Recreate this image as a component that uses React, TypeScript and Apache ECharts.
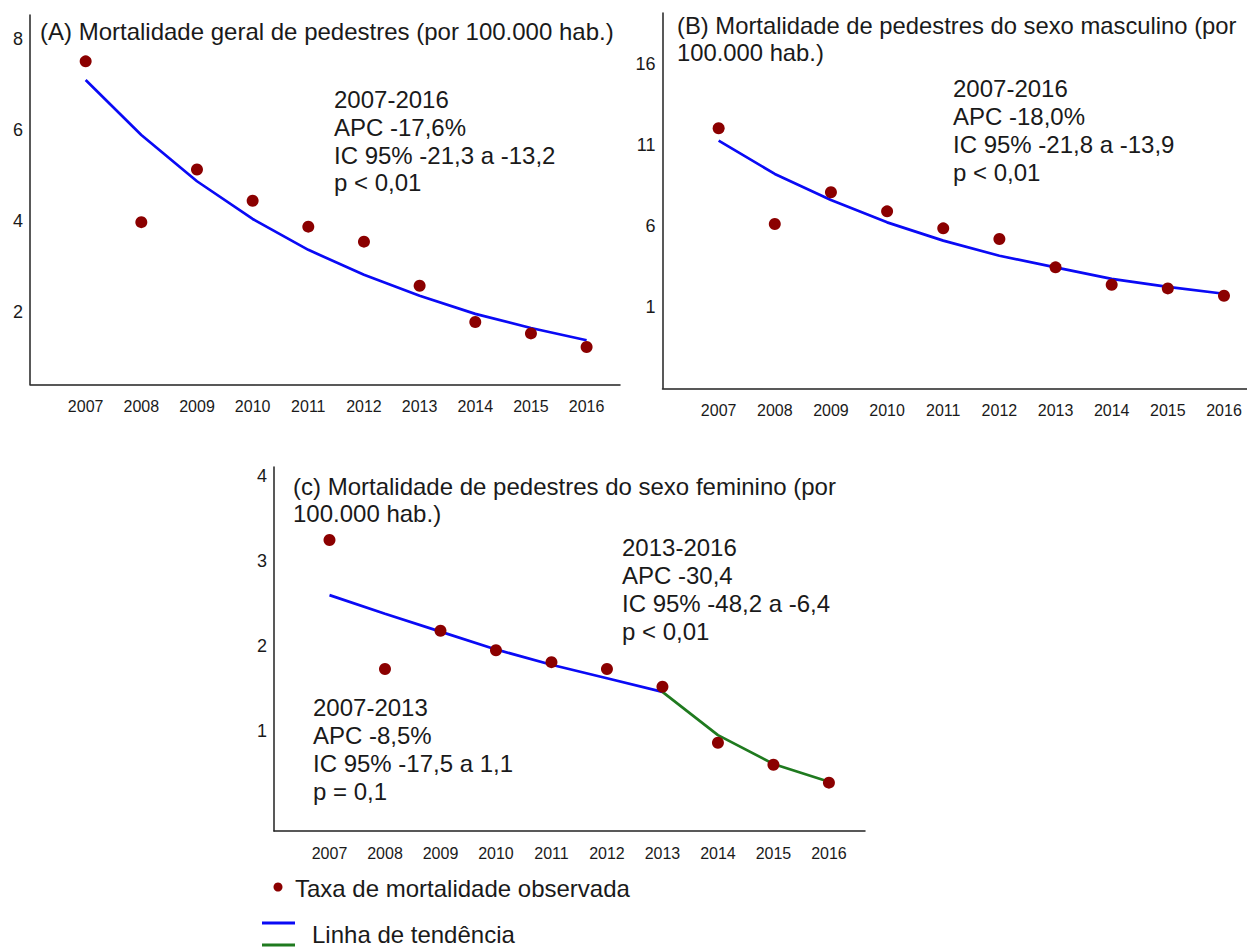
import React, { useEffect, useRef } from "react";
import * as echarts from "echarts";

const years = [2007, 2008, 2009, 2010, 2011, 2012, 2013, 2014, 2015, 2016];
const yearsC1 = [2007, 2008, 2009, 2010, 2011, 2012, 2013];
const yearsC2 = [2013, 2014, 2015, 2016];

const obsA = [7.51, 3.97, 5.13, 4.44, 3.87, 3.54, 2.57, 1.77, 1.52, 1.22];
const trendA = [7.1, 5.89, 4.87, 4.04, 3.36, 2.81, 2.35, 1.95, 1.64, 1.37];

const obsB = [12.02, 6.11, 8.07, 6.89, 5.84, 5.18, 3.43, 2.36, 2.13, 1.68];
const trendB = [11.26, 9.2, 7.59, 6.21, 5.08, 4.15, 3.43, 2.72, 2.22, 1.8];

const obsC = [3.25, 1.73, 2.18, 1.95, 1.81, 1.73, 1.52, 0.86, 0.6, 0.39];
const trendC1 = [2.6, 2.38, 2.17, 1.96, 1.78, 1.62, 1.46];
const trendC2 = [1.46, 0.95, 0.61, 0.4];

const ticksA = [2, 4, 6, 8];
const ticksB = [1, 6, 11, 16];
const ticksC = [1, 2, 3, 4];

const titleA = "(A) Mortalidade geral de pedestres (por 100.000 hab.)";
const titleB = "(B) Mortalidade de pedestres do sexo masculino (por\n100.000 hab.)";
const titleC = "(c) Mortalidade de pedestres do sexo feminino (por\n100.000 hab.)";
const noteA = ["2007-2016", "APC -17,6%", "IC 95% -21,3 a -13,2", "p < 0,01"];
const noteB = ["2007-2016", "APC -18,0%", "IC 95% -21,8 a -13,9", "p < 0,01"];
const noteC2 = ["2013-2016", "APC -30,4", "IC 95% -48,2 a -6,4", "p < 0,01"];
const noteC1 = ["2007-2013", "APC -8,5%", "IC 95% -17,5 a 1,1", "p = 0,1"];
const legendObs = "Taxa de mortalidade observada";
const legendTrend = "Linha de tendência";

const FONT = "'Liberation Sans', Arial, sans-serif";
const TEXT = "#1a1a1a";
const DOT = "#8B0000";
const BLUE = "#0A0AF5";
const GREEN = "#1F7A1F";

const pairs = (xs: number[], ys: number[]) => xs.map((x, i) => [x, ys[i]]);

function textEl(x: number, y: number, text: string, size = 24, lh = 27.5) {
  return {
    type: "text",
    x,
    y,
    style: {
      text,
      fill: TEXT,
      font: `${size}px ${FONT}`,
      lineHeight: lh,
      align: "left",
      verticalAlign: "top",
    },
  };
}

function xAxis(gridIndex: number, max: number) {
  return {
    type: "value",
    gridIndex,
    min: 2006,
    max,
    splitLine: { show: false },
    axisTick: { show: false },
    axisLine: { show: true, onZero: false, lineStyle: { color: "#222", width: 1.5 } },
    axisLabel: {
      customValues: years,
      formatter: (v: number) => String(v),
      color: TEXT,
      fontSize: 16,
      fontFamily: FONT,
      margin: 14,
    },
  };
}

function yAxis(gridIndex: number, min: number, max: number, ticks: number[]) {
  return {
    type: "value",
    gridIndex,
    min,
    max,
    splitLine: { show: false },
    axisTick: { show: false },
    axisLine: { show: true, onZero: false, lineStyle: { color: "#222", width: 1.5 } },
    axisLabel: {
      customValues: ticks,
      formatter: (v: number) => String(v),
      color: TEXT,
      fontSize: 18,
      fontFamily: FONT,
      margin: 7,
    },
  };
}

function scatter(i: number, data: number[][]) {
  return {
    type: "scatter",
    xAxisIndex: i,
    yAxisIndex: i,
    data,
    symbol: "circle",
    symbolSize: 12,
    itemStyle: { color: DOT, opacity: 1 },
    z: 3,
  };
}

function line(i: number, data: number[][], color: string) {
  return {
    type: "line",
    xAxisIndex: i,
    yAxisIndex: i,
    data,
    showSymbol: false,
    symbol: "none",
    lineStyle: { color, width: 2.7 },
    z: 2,
  };
}

export default function App() {
  const ref = useRef<HTMLDivElement>(null);

  useEffect(() => {
    if (!ref.current) return;
    const chart = echarts.init(ref.current, undefined, { renderer: "svg" });
    chart.setOption({
      animation: false,
      backgroundColor: "#ffffff",
      grid: [
        { left: 30, top: 15, width: 590, height: 369.3 },
        { left: 662.5, top: 13, width: 584.5, height: 375.3 },
        { left: 274, top: 467, width: 591, height: 364 },
      ],
      xAxis: [xAxis(0, 2016.6), xAxis(1, 2016.41), xAxis(2, 2016.65)],
      yAxis: [
        yAxis(0, 0.4, 8.53, ticksA),
        yAxis(1, -4.04, 19.14, ticksB),
        yAxis(2, -0.18, 4.11, ticksC),
      ],
      series: [
        line(0, pairs(years, trendA), BLUE),
        scatter(0, pairs(years, obsA)),
        line(1, pairs(years, trendB), BLUE),
        scatter(1, pairs(years, obsB)),
        line(2, pairs(yearsC1, trendC1), BLUE),
        line(2, pairs(yearsC2, trendC2), GREEN),
        scatter(2, pairs(years, obsC)),
      ],
      graphic: [
        textEl(40, 17.5, titleA, 24, 27),
        textEl(677, 11.5, titleB, 23.8, 27.5),
        textEl(293, 473.5, titleC, 24, 26.7),
        textEl(334, 86, noteA.join("\n"), 24, 27.7),
        textEl(953, 74, noteB.join("\n"), 24, 28),
        textEl(622, 534, noteC2.join("\n"), 24, 27.8),
        textEl(313, 694, noteC1.join("\n"), 24, 27.8),
        {
          type: "circle",
          shape: { cx: 278, cy: 887, r: 4.5 },
          style: { fill: DOT },
        },
        textEl(295, 876, legendObs, 24, 24),
        {
          type: "line",
          shape: { x1: 262, y1: 923, x2: 295, y2: 923 },
          style: { stroke: BLUE, lineWidth: 3 },
        },
        {
          type: "line",
          shape: { x1: 262, y1: 945, x2: 295, y2: 945 },
          style: { stroke: GREEN, lineWidth: 3 },
        },
        textEl(312, 922, legendTrend, 24, 24),
      ],
    });
    return () => chart.dispose();
  }, []);

  return (
    <div
      ref={ref}
      style={{ position: "fixed", left: 0, top: 0, width: 1247, height: 947, background: "#fff" }}
    />
  );
}
